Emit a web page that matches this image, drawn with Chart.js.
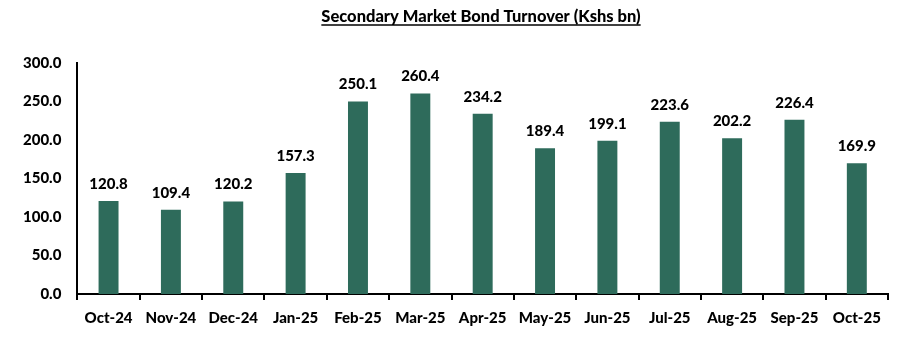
<!DOCTYPE html>
<html>
<head>
<meta charset="utf-8">
<script src="https://cdn.jsdelivr.net/npm/chart.js@4"></script>
<style>
  html, body { margin: 0; padding: 0; background: #ffffff; }
  #wrap { width: 912px; height: 344px; position: relative; }
</style>
</head>
<body>
<div id="wrap"><canvas id="graficoTurnover"></canvas></div>
<script>
// Dados do grafico
const months = ['Oct-24', 'Nov-24', 'Dec-24', 'Jan-25', 'Feb-25', 'Mar-25', 'Apr-25',
                'May-25', 'Jun-25', 'Jul-25', 'Aug-25', 'Sep-25', 'Oct-25'];
const turnover = [120.8, 109.4, 120.2, 157.3, 250.1, 260.4, 234.2, 189.4, 199.1, 223.6, 202.2, 226.4, 169.9];
const chartTitle = 'Secondary Market Bond Turnover (Kshs bn)';

const barColor = '#2e6b5b';
const fontFamily = 'Lato, "Open Sans", sans-serif';

// Rotulos acima das barras
const valueLabels = {
    id: 'valueLabels',
    afterDatasetsDraw(chart) {
        const c = chart.ctx;
        const meta = chart.getDatasetMeta(0);
        c.save();
        c.font = '900 15px ' + fontFamily;
        c.fillStyle = '#000000';
        c.textAlign = 'center';
        c.textBaseline = 'alphabetic';
        meta.data.forEach((bar, i) => {
            c.fillText(turnover[i].toFixed(1), bar.x, bar.y - 12);
        });
        c.restore();
    }
};

// Titulo sublinhado
const underlinedTitle = {
    id: 'underlinedTitle',
    afterDraw(chart) {
        const c = chart.ctx;
        c.save();
        c.font = '900 16.5px ' + fontFamily;
        c.fillStyle = '#000000';
        c.textAlign = 'center';
        c.textBaseline = 'alphabetic';
        const cx = 481;
        const base = 22;
        c.fillText(chartTitle, cx, base);
        const w = c.measureText(chartTitle).width;
        c.strokeStyle = '#000000';
        c.lineWidth = 1.3;
        c.beginPath();
        c.moveTo(cx - w / 2, base + 3);
        c.lineTo(cx + w / 2, base + 3);
        c.stroke();
        c.restore();
    }
};

const ctx = document.getElementById('graficoTurnover');

new Chart(ctx, {
    type: 'bar',
    data: {
        labels: months,
        datasets: [{
            data: turnover,
            backgroundColor: barColor,
            borderWidth: 0,
            categoryPercentage: 1.0,
            barPercentage: 0.32
        }]
    },
    options: {
        responsive: true,
        maintainAspectRatio: false,
        animation: false,
        layout: {
            padding: { left: 7, right: 24, top: 63, bottom: 8 }
        },
        plugins: {
            legend: { display: false },
            tooltip: { enabled: false },
            title: { display: false }
        },
        scales: {
            x: {
                grid: {
                    offset: true,
                    drawOnChartArea: false,
                    drawTicks: true,
                    tickLength: 6,
                    color: '#000000',
                    lineWidth: 2
                },
                border: { display: true, color: '#000000', width: 2 },
                ticks: {
                    color: '#000000',
                    font: { family: fontFamily, size: 15, weight: '900' },
                    padding: 9,
                    maxRotation: 0,
                    autoSkip: false
                }
            },
            y: {
                min: 0,
                max: 300,
                grid: { display: false, drawTicks: false },
                border: { display: true, color: '#000000', width: 2 },
                ticks: {
                    stepSize: 50,
                    color: '#000000',
                    font: { family: fontFamily, size: 15, weight: '900' },
                    padding: 16,
                    callback: (v) => Number(v).toFixed(1)
                }
            }
        }
    },
    plugins: [valueLabels, underlinedTitle]
});
</script>
</body>
</html>
